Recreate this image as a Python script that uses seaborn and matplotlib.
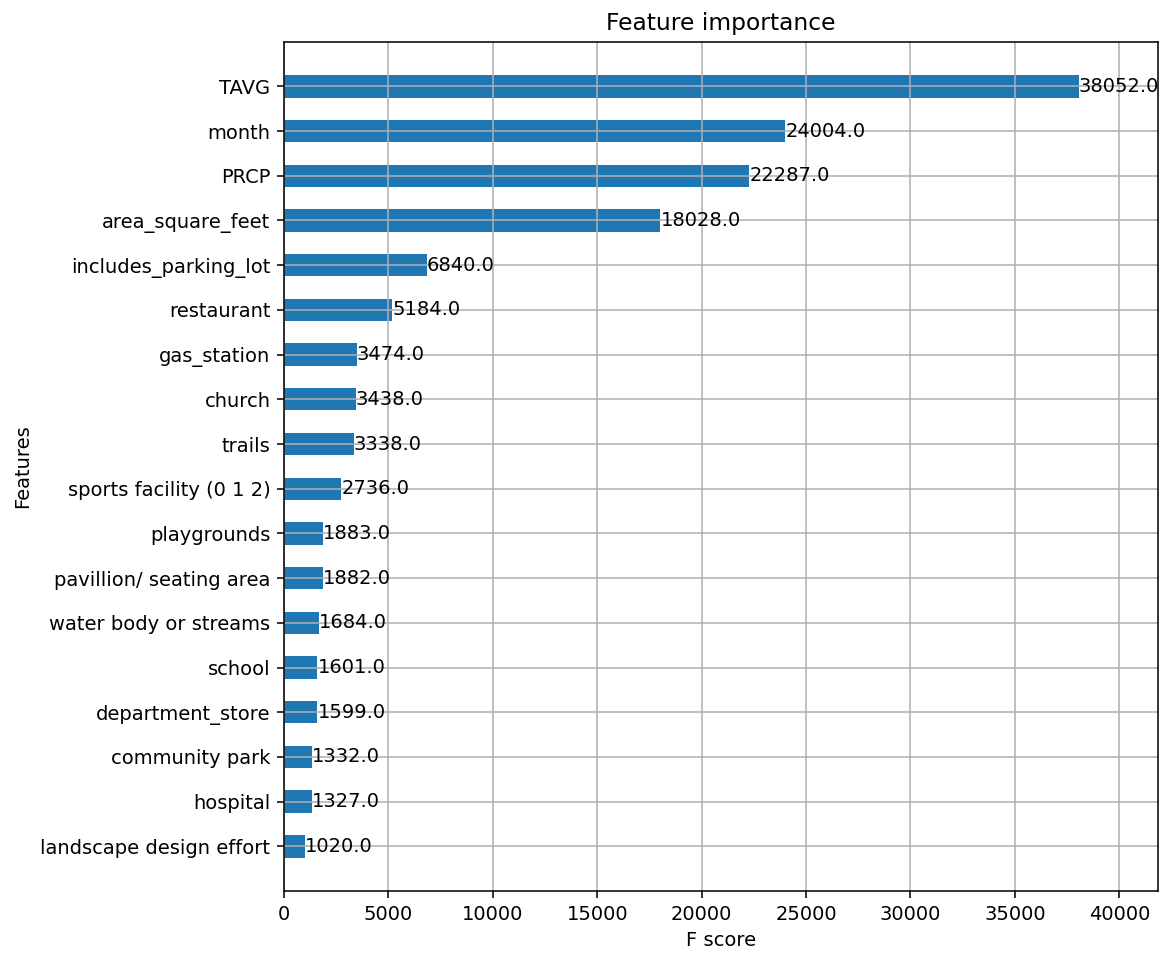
import matplotlib
matplotlib.use("Agg")
import matplotlib.pyplot as plt
import seaborn as sns
import pandas as pd

features = [
    "TAVG", "month", "PRCP", "area_square_feet", "includes_parking_lot",
    "restaurant", "gas_station", "church", "trails", "sports facility (0 1 2)",
    "playgrounds", "pavillion/ seating area", "water body or streams", "school",
    "department_store", "community park", "hospital", "landscape design effort",
]
fscores = [
    38052.0, 24004.0, 22287.0, 18028.0, 6840.0,
    5184.0, 3474.0, 3438.0, 3338.0, 2736.0,
    1883.0, 1882.0, 1684.0, 1601.0,
    1599.0, 1332.0, 1327.0, 1020.0,
]

df = pd.DataFrame({"feature": features, "score": fscores})

DPI = 140
fig = plt.figure(figsize=(1162 / DPI, 954 / DPI), dpi=DPI)
ax = fig.add_axes([0.2444, 0.0660, 0.7522, 0.8903])

sns.barplot(data=df, x="score", y="feature", orient="h", color="#1f77b4",
            saturation=1, width=0.5, ax=ax, order=features)

for i, v in enumerate(fscores):
    ax.text(v + 1, i, str(v), va="center")

ax.set_xlim(0, max(fscores) * 1.1)
ax.set_ylim(len(features), -1)
ax.grid(True)
ax.set_title("Feature importance")
ax.set_xlabel("F score")
ax.set_ylabel("Features")

fig.savefig("out.png", dpi=DPI)
